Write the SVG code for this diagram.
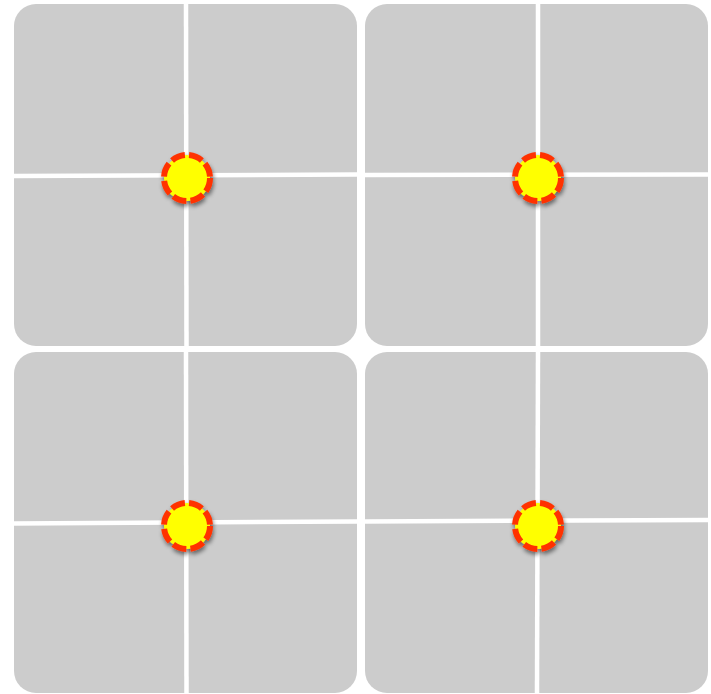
<svg xmlns="http://www.w3.org/2000/svg" width="711" height="694" viewBox="0 0 711 694">
<defs>
<style>
.panel{fill:#cccccc;}
.grid{stroke:#ffffff;stroke-width:4.5;fill:none;}
.pt{fill:#ffff00;stroke:#ff3300;stroke-width:6;stroke-dasharray:14,4.3;filter:url(#sh);}
</style>
<filter id="sh" x="-50%" y="-50%" width="200%" height="200%">
<feGaussianBlur in="SourceAlpha" stdDeviation="2"/>
<feOffset dx="1" dy="3" result="b"/>
<feComponentTransfer><feFuncA type="linear" slope="0.5"/></feComponentTransfer>
<feMerge><feMergeNode/><feMergeNode in="SourceGraphic"/></feMerge>
</filter>
</defs>
<g id="panel-tl">
<rect class="panel" x="14" y="4" width="343" height="342" rx="22"/>
<line class="grid" x1="14" y1="176" x2="357" y2="174.5"/>
<line class="grid" x1="186" y1="4" x2="186.5" y2="346"/>
<circle class="pt" cx="187" cy="178" r="23"/>
</g>
<g id="panel-tr">
<rect class="panel" x="365" y="4" width="343" height="342" rx="22"/>
<line class="grid" x1="365" y1="175" x2="708" y2="174.5"/>
<line class="grid" x1="538" y1="4" x2="538" y2="346"/>
<circle class="pt" cx="538" cy="178" r="23"/>
</g>
<g id="panel-bl">
<rect class="panel" x="14" y="352" width="343" height="341" rx="22"/>
<line class="grid" x1="14" y1="523.5" x2="357" y2="521.5"/>
<line class="grid" x1="186" y1="352" x2="186.5" y2="693"/>
<circle class="pt" cx="187" cy="526" r="23"/>
</g>
<g id="panel-br">
<rect class="panel" x="365" y="352" width="343" height="341" rx="22"/>
<line class="grid" x1="365" y1="521.5" x2="708" y2="520"/>
<line class="grid" x1="538" y1="352" x2="537" y2="693"/>
<circle class="pt" cx="538" cy="526" r="23"/>
</g>
<g id="connectors"></g>
</svg>
